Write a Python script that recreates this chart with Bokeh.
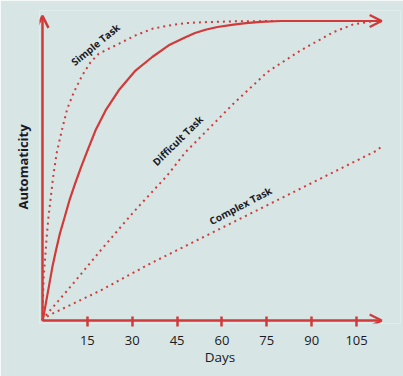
from bokeh.plotting import figure
from bokeh.models import Range1d, FixedTicker, Arrow, OpenHead, Label
from bokeh.embed import file_html
from bokeh.resources import INLINE

# ---- data ----
tick_days = [15, 30, 45, 60, 75, 90, 105]
x_title = "Days"
y_title = "Automaticity"

habit_days = [0, 0.3, 1.3, 2.3, 3.3, 4.5, 5.8, 7.4, 9.0, 10.9, 12.9, 15.0, 17.7, 21.1, 25.5,
              31.1, 36.7, 42.2, 47.8, 51.0, 54.5, 58.5, 63.9, 68.0, 73.0, 79.6, 113.4]
habit_vals = [0, 1.1, 6.7, 12.2, 17.8, 23.3, 28.9, 34.4, 40.0, 45.6, 51.1, 56.5, 63.3, 70.0, 76.7,
              83.3, 87.8, 91.7, 94.4, 95.8, 96.9, 97.8, 98.6, 99.1, 99.5, 99.8, 99.8]

simple_days = [0, 0.2, 0.4, 0.9, 1.4, 2.0, 2.9, 3.7, 4.8, 6.6, 8.3, 10.5, 13.3, 16.1, 18.8,
               20.0, 25.5, 31.1, 36.7, 42.2, 47.8, 53.4, 65.0, 78.0]
simple_vals = [0, 7.8, 14.4, 21.1, 27.8, 34.4, 42.2, 48.9, 56.1, 63.9, 70.6, 76.1, 81.7, 86.1, 88.9,
               89.5, 92.2, 95.0, 97.2, 98.3, 99.1, 99.4, 99.7, 99.8]

difficult_days = [0, 1.6, 8.3, 19.4, 30.4, 41.7, 47.8, 53.4, 63.9, 75.2, 86.3, 97.3, 104.0, 110.7]
difficult_vals = [0, 2.3, 10.0, 23.3, 36.1, 48.3, 56.1, 61.7, 72.3, 82.8, 90.0, 96.1, 98.7, 99.8]

complex_days = [0, 2.1, 19.4, 36.1, 52.8, 111.9, 113.0]
complex_vals = [0, 1.7, 10.0, 19.0, 27.3, 56.7, 57.7]

labels = ["Simple Task", "Difficult Task", "Complex Task"]

# ---- style ----
BG = "#d7e5e5"
RED = "#d23a3a"
TXT = "#1a1a24"
FONT = "Open Sans"

p = figure(width=403, height=376, output_backend="svg", toolbar_location=None,
           x_range=Range1d(-1.0, 119.7), y_range=Range1d(-1.0, 103.3),
           min_border_left=39, min_border_right=3, min_border_top=10, min_border_bottom=53)
p.background_fill_color = BG
p.border_fill_color = BG
p.outline_line_color = None
p.xgrid.visible = False
p.ygrid.visible = False

# x axis
xa = p.xaxis[0]
xa.ticker = FixedTicker(ticks=tick_days)
xa.axis_line_color = None
xa.major_tick_line_color = RED
xa.major_tick_line_width = 2.5
xa.major_tick_in = 7
xa.major_tick_out = 3
xa.minor_tick_line_color = None
xa.major_label_text_font = FONT
xa.major_label_text_font_size = "13px"
xa.major_label_text_color = TXT
xa.major_label_standoff = 9
xa.axis_label = x_title
xa.axis_label_text_font = FONT
xa.axis_label_text_font_size = "13.5px"
xa.axis_label_text_font_style = "normal"
xa.axis_label_text_color = TXT
xa.axis_label_standoff = 0

# y axis
ya = p.yaxis[0]
ya.ticker = FixedTicker(ticks=[])
ya.axis_line_color = None
ya.major_tick_line_color = None
ya.minor_tick_line_color = None
ya.major_tick_out = 0
ya.major_label_standoff = 0
ya.axis_label = y_title
ya.axis_label_text_font = FONT
ya.axis_label_text_font_size = "13px"
ya.axis_label_text_font_style = "bold"
ya.axis_label_text_color = TXT
ya.axis_label_standoff = 8

# curves
p.line(simple_days, simple_vals, line_color=RED, line_width=2, line_dash="2 4")
p.line(difficult_days, difficult_vals, line_color=RED, line_width=2, line_dash="2 4")
p.line(complex_days, complex_vals, line_color=RED, line_width=2, line_dash="2 4")
p.line(habit_days, habit_vals, line_color=RED, line_width=2.2)

# axis arrows
p.add_layout(Arrow(end=OpenHead(size=12, line_color=RED, line_width=2.5),
                   x_start=0, y_start=0, x_end=113.4, y_end=0,
                   line_color=RED, line_width=2.5))
p.add_layout(Arrow(end=OpenHead(size=12, line_color=RED, line_width=2.5),
                   x_start=0, y_start=0, x_end=0, y_end=101.5,
                   line_color=RED, line_width=2.5))
# arrow head on the habit curve
p.add_layout(Arrow(end=OpenHead(size=12, line_color=RED, line_width=2.5),
                   x_start=habit_days[-2], y_start=habit_vals[-2],
                   x_end=habit_days[-1], y_end=habit_vals[-1],
                   line_color=RED, line_width=2.2))

# task labels
for text, x, y, ang in [(labels[0], 17.7, 92.0, 39.5),
                        (labels[1], 45.2, 60.0, 44.5),
                        (labels[2], 66.2, 38.3, 27.7)]:
    p.add_layout(Label(x=x, y=y, text=text, angle=ang, angle_units="deg",
                       text_align="center", text_baseline="middle",
                       text_font=FONT, text_font_size="10px", text_font_style="bold",
                       text_color=TXT))

html = file_html(p, INLINE)
open("out.html", "w").write(html)
